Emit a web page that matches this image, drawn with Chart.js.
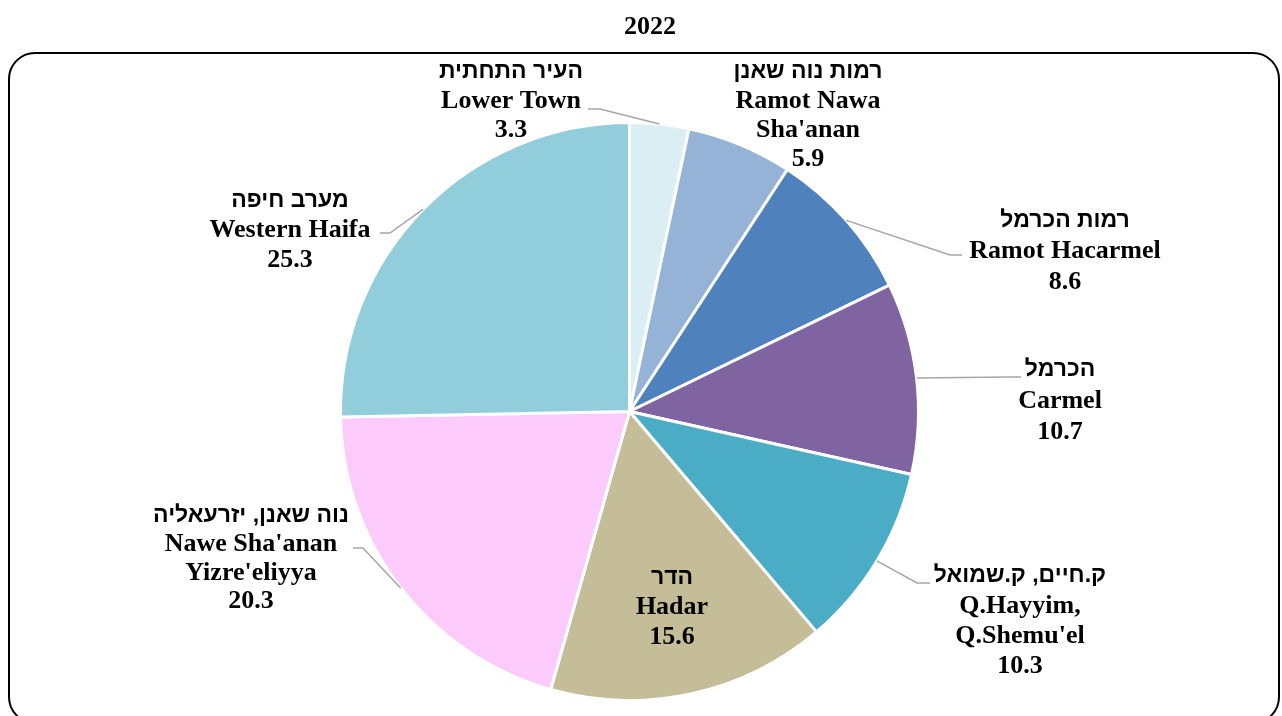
<!DOCTYPE html>
<html>
<head>
<meta charset="utf-8">
<script src="https://cdn.jsdelivr.net/npm/chart.js@4"></script>
<style>
    html, body { margin: 0; padding: 0; background: #ffffff; }
    #wrap { position: relative; width: 1282px; height: 716px; }
</style>
</head>
<body>
<div id="wrap"><canvas id="chartPie"></canvas></div>
<script>
// Data
const chartTitle = '2022';
const namesHe = ['העיר התחתית', 'רמות נוה שאנן', 'רמות הכרמל', 'הכרמל', 'ק.חיים, ק.שמואל', 'הדר', 'נוה שאנן, יזרעאליה', 'מערב חיפה'];
const namesEn = [['Lower Town'], ['Ramot Nawa', "Sha'anan"], ['Ramot Hacarmel'], ['Carmel'], ['Q.Hayyim,', "Q.Shemu'el"], ['Hadar'], ["Nawe Sha'anan", "Yizre'eliyya"], ['Western Haifa']];
const shares = [3.3, 5.9, 8.6, 10.7, 10.3, 15.6, 20.3, 25.3];

// Slice colours
const sliceColors = ['#DAEEF3', '#95B3D7', '#4F81BD', '#8064A2', '#4BACC6', '#C4BD97', '#FCCBFC', '#92CDDC'];

// Where each label block sits (x centre, first line y, line step) and leader line bends
const labelLayout = [
    { x: 511, y: 72, step: 29, leader: [[600, 109], [588, 109]] },
    { x: 808, y: 72, step: 29, leader: null },
    { x: 1065, y: 221, step: 30.5, leader: [[950, 255], [962, 255]] },
    { x: 1060, y: 370, step: 31, leader: [[1008, 377], [1021, 377]] },
    { x: 1020, y: 576, step: 30, leader: [[917, 583], [930, 583]] },
    { x: 672, y: 578, step: 29.5, leader: null },
    { x: 251, y: 516, step: 28.5, leader: [[363, 548], [353, 548]] },
    { x: 290, y: 201, step: 29.5, leader: [[390, 233], [380, 233]] }
];

const FONT_EN = 'bold 26px "Liberation Serif", "Times New Roman", serif';
const FONT_HE = 'bold 23px "Liberation Sans", "DejaVu Sans", sans-serif';

function drawLine(ctx, str, x, y, rtl) {
    ctx.save();
    ctx.font = rtl ? FONT_HE : FONT_EN;
    ctx.direction = rtl ? 'rtl' : 'ltr';
    ctx.textAlign = 'center';
    ctx.textBaseline = 'middle';
    ctx.fillStyle = '#000000';
    ctx.fillText(str, x, y);
    ctx.restore();
}

// Plugin: frame, title, labels, leader lines
const decorPlugin = {
    id: 'decor',
    afterDraw(chart) {
        const ctx = chart.ctx;
        const arcs = chart.getDatasetMeta(0).data;

        // rounded frame
        ctx.save();
        ctx.strokeStyle = '#000000';
        ctx.lineWidth = 2;
        ctx.beginPath();
        ctx.roundRect(9, 53, 1270, 670, 26);
        ctx.stroke();
        ctx.restore();

        drawLine(ctx, chartTitle, 650, 27, false);

        arcs.forEach((arc, i) => {
            const lay = labelLayout[i];
            if (lay.leader) {
                const mid = (arc.startAngle + arc.endAngle) / 2;
                const sx = arc.x + Math.cos(mid) * arc.outerRadius;
                const sy = arc.y + Math.sin(mid) * arc.outerRadius;
                ctx.save();
                ctx.strokeStyle = '#A6A6A6';
                ctx.lineWidth = 1.5;
                ctx.beginPath();
                ctx.moveTo(sx, sy);
                lay.leader.forEach(p => ctx.lineTo(p[0], p[1]));
                ctx.stroke();
                ctx.restore();
            }
            const lines = [namesHe[i], ...namesEn[i], shares[i].toFixed(1)];
            lines.forEach((s, k) => {
                drawLine(ctx, s, lay.x, lay.y + k * lay.step, k === 0);
            });
        });
    }
};

const ctxPie = document.getElementById('chartPie').getContext('2d');
const chartPie = new Chart(ctxPie, {
    type: 'pie',
    data: {
        labels: namesEn.map(l => l.join(' ')),
        datasets: [{
            data: shares,
            backgroundColor: sliceColors,
            borderColor: '#ffffff',
            borderWidth: 3
        }]
    },
    options: {
        responsive: true,
        maintainAspectRatio: false,
        animation: false,
        layout: {
            padding: { left: 339, right: 362, top: 121, bottom: 14 }
        },
        plugins: {
            legend: { display: false },
            tooltip: { enabled: false }
        }
    },
    plugins: [decorPlugin]
});
</script>
</body>
</html>
